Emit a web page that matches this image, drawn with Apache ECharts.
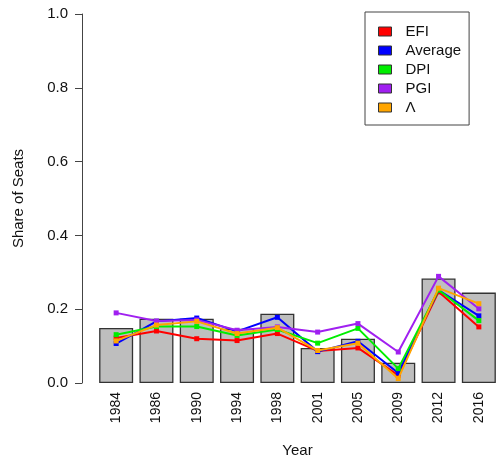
<!DOCTYPE html>
<html>
<head>
<meta charset="utf-8">
<script src="https://cdn.jsdelivr.net/npm/echarts@6/dist/echarts.min.js"></script>
<style>html,body{margin:0;padding:0;background:#fff;}#c{width:499px;height:463px;}</style>
</head>
<body>
<div id="c"></div>
<script>
const years = ['1984','1986','1990','1994','1998','2001','2005','2009','2012','2016'];
const seats = [0.149, 0.174, 0.174, 0.147, 0.188, 0.095, 0.120, 0.055, 0.283, 0.245];
const efi   = [0.122, 0.141, 0.120, 0.115, 0.134, 0.087, 0.095, 0.021, 0.247, 0.152];
const avg   = [0.107, 0.167, 0.176, 0.140, 0.178, 0.085, 0.113, 0.027, 0.252, 0.182];
const dpi   = [0.131, 0.153, 0.153, 0.129, 0.145, 0.108, 0.148, 0.039, 0.252, 0.169];
const pgi   = [0.190, 0.168, 0.171, 0.143, 0.152, 0.138, 0.161, 0.084, 0.289, 0.201];
const lam   = [0.114, 0.157, 0.167, 0.134, 0.150, 0.088, 0.108, 0.012, 0.257, 0.215];
const yTicks = [0, 0.2, 0.4, 0.6, 0.8, 1.0];

const lineDefs = [
  {name:'EFI', data:efi, color:'#FF0000'},
  {name:'Average', data:avg, color:'#0000FF'},
  {name:'DPI', data:dpi, color:'#00EE00'},
  {name:'PGI', data:pgi, color:'#A020F0'},
  {name:'\u039B', data:lam, color:'#FFA500'}
];
const font = 'Liberation Sans, Arial, sans-serif';
const chart = echarts.init(document.getElementById('c'), null, {renderer:'canvas'});
chart.setOption({
  animation:false,
  backgroundColor:'#ffffff',
  textStyle:{fontFamily:font},
  grid:{left:96, right:-5, top:14, bottom:76, containLabel:false},
  legend:{
    orient:'vertical', left:365, top:12,
    data: lineDefs.map(d=>d.name),
    icon:'rect', itemWidth:13, itemHeight:9, itemGap:0,
    itemStyle:{borderColor:'#333', borderWidth:1},
    textStyle:{fontSize:15, color:'#111', lineHeight:19, fontFamily:font, padding:[0,0,0,9]},
    borderColor:'#444', borderWidth:1, padding:[10,8,8,13],
    backgroundColor:'#fff'
  },
  xAxis:{
    type:'category', data:years, boundaryGap:true,
    axisLine:{show:false}, axisTick:{show:false},
    axisLabel:{rotate:90, margin:9, fontSize:14, color:'#111', fontFamily:font},
    name:'Year', nameLocation:'middle', nameGap:60,
    nameTextStyle:{fontSize:15, color:'#111', fontFamily:font}
  },
  yAxis:{
    type:'value', min:0, max:1, interval:0.2, offset:14,
    axisLine:{show:true, lineStyle:{color:'#444', width:1}},
    axisTick:{show:true, length:7, lineStyle:{color:'#444'}},
    splitLine:{show:false},
    axisLabel:{margin:14, fontSize:15, color:'#111', fontFamily:font,
      formatter:v=>yTicks.some(t=>Math.abs(t-v)<1e-9)?v.toFixed(1):''},
    name:'Share of Seats', nameLocation:'middle', nameGap:56,
    nameTextStyle:{fontSize:15, color:'#111', fontFamily:font}
  },
  series:[
    {type:'bar', name:'seats', data:seats, barWidth:34,
     itemStyle:{color:'#BEBEBE', borderColor:'#333', borderWidth:1.3}, z:1},
    ...lineDefs.map((d,i)=>({
      type:'line', name:d.name, data:d.data, color:d.color,
      symbol:'rect', symbolSize:5, showSymbol:true,
      lineStyle:{color:d.color, width:2},
      itemStyle:{color:d.color},
      z:2+i
    }))
  ]
});
</script>
</body>
</html>
